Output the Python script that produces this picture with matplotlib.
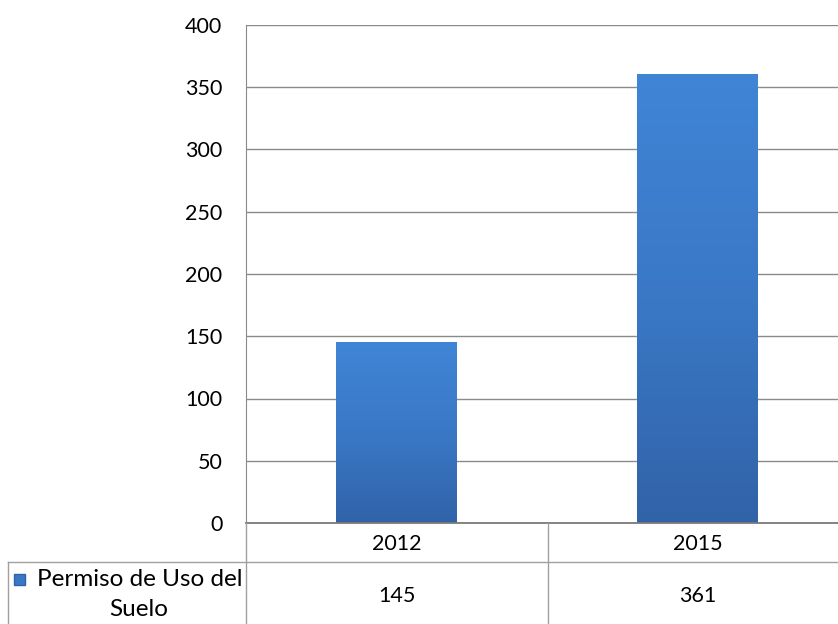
import matplotlib
matplotlib.use("Agg")
import matplotlib.pyplot as plt
import numpy as np
from matplotlib.colors import LinearSegmentedColormap

categories = ["2012", "2015"]
values = [145, 361]
series_name = "Permiso de Uso del\nSuelo"
yticks = [0, 50, 100, 150, 200, 250, 300, 350, 400]

plt.rcParams['font.family'] = ['Lato', 'DejaVu Sans']

W, H = 838, 624
fig = plt.figure(figsize=(W / 100, H / 100), dpi=100)
fig.patch.set_facecolor("white")

FS = 15.5

ax_l, ax_r, ax_t, ax_b = 246, 848, 25, 523
ax = fig.add_axes([ax_l / W, (H - ax_b) / H, (ax_r - ax_l) / W, (ax_b - ax_t) / H])
x = np.arange(len(categories))
bars = ax.bar(x, values, width=0.40, color="#3A78C6", edgecolor="none", zorder=2)

cmap = LinearSegmentedColormap.from_list("g", ["#3163A8", "#3A78C6", "#4085D6"])
grad = np.linspace(0, 1, 256).reshape(-1, 1)
for b in bars:
    x0, y0 = b.get_x(), b.get_y()
    im = ax.imshow(grad, extent=[x0, x0 + b.get_width(), y0, y0 + b.get_height()],
                   origin="lower", aspect="auto", cmap=cmap, zorder=2.5)
    im.set_clip_path(b)

ax.set_xlim(-0.5, 1.5)
ax.set_ylim(0, 400)
ax.set_yticks(yticks)
ax.set_yticklabels([str(v) for v in yticks], fontsize=FS)
ax.tick_params(axis="y", length=0, pad=17)
ax.set_xticks([])
ax.yaxis.grid(True, color="#8a8a8a", linewidth=1.0, zorder=0)
ax.set_axisbelow(True)
for s in ["top", "right"]:
    ax.spines[s].set_visible(False)
ax.spines["left"].set_color("#8a8a8a")
ax.spines["bottom"].set_color("#7a7a7a")
ax.spines["bottom"].set_linewidth(1.3)

# Data table drawn in figure pixel coordinates
tab = fig.add_axes([0, 0, 1, 1], facecolor="none")
tab.set_xlim(0, W)
tab.set_ylim(H, 0)
tab.axis("off")
lc = "#a0a0a0"
tab.plot([ax_l, W], [562, 562], color=lc, lw=1)
tab.plot([8, ax_l], [562, 562], color=lc, lw=1)
tab.plot([8, 8], [562, H], color=lc, lw=1)
tab.plot([ax_l, ax_l], [ax_b, H], color=lc, lw=1)
tab.plot([548, 548], [ax_b, H], color=lc, lw=1)

for i, cat in enumerate(categories):
    px = ax.transData.transform((x[i], 0))[0]
    tab.text(px, 544, cat, ha="center", va="center", fontsize=FS, color="black")
    tab.text(px, 596, str(values[i]), ha="center", va="center", fontsize=FS, color="black")

tab.add_patch(plt.Rectangle((14, 574), 11, 11, facecolor="#3A78C6", edgecolor="#2E62A6"))
lines = series_name.split("\n")
tab.text(242, 580, lines[0], ha="right", va="center", fontsize=17.5, color="black")
tab.text(139, 609, lines[1], ha="center", va="center", fontsize=17.5, color="black")

fig.savefig("out.png", dpi=100, facecolor="white")
